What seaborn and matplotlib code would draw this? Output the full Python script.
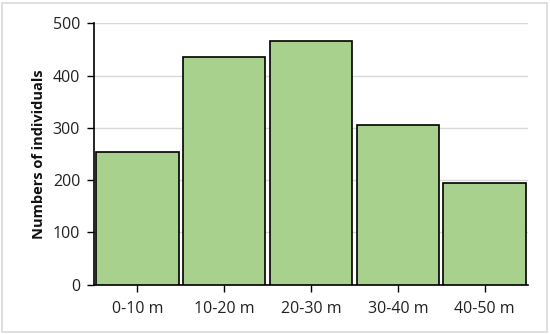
import matplotlib
matplotlib.use("Agg")
import matplotlib.pyplot as plt
import pandas as pd
import seaborn as sns
from matplotlib.patches import Rectangle

# Values
classes = ["0-10 m", "10-20 m", "20-30 m", "30-40 m", "40-50 m"]
counts = [253, 436, 466, 306, 195]
y_ticks = [0, 100, 200, 300, 400, 500]

BAR_COLOR = "#A9D18E"
GRID_COLOR = "#D9D9D9"


def main() -> None:
  sns.set_theme(style="white")
  plt.rcParams["font.family"] = ["Open Sans", "DejaVu Sans"]

  df = pd.DataFrame({"class": classes, "count": counts})

  fig = plt.figure(figsize=(5.5, 3.34), dpi=100)
  ax = fig.add_axes([0.171, 0.148, 0.789, 0.782])

  sns.barplot(
    data=df, x="class", y="count", color=BAR_COLOR, saturation=1,
    width=0.95, edgecolor="black", linewidth=1.2, ax=ax, zorder=3,
  )

  ax.set_xlim(-0.5, len(classes) - 0.5)
  ax.set_ylim(0, 500)
  ax.set_yticks(y_ticks)
  ax.yaxis.grid(True, color=GRID_COLOR, linewidth=1, zorder=0)
  ax.set_axisbelow(True)

  for side in ["top", "right"]:
    ax.spines[side].set_visible(False)
  for side in ["left", "bottom"]:
    ax.spines[side].set_color("black")
    ax.spines[side].set_linewidth(1.2)

  ax.tick_params(axis="both", which="major", length=5, width=1, color="black",
                 direction="out", labelsize=11.5, labelcolor="#222222")
  ax.tick_params(axis="y", pad=5)
  ax.tick_params(axis="x", pad=7)
  ax.xaxis.set_ticks_position("bottom")
  ax.yaxis.set_ticks_position("left")

  ax.set_xlabel("")
  ax.set_ylabel("Numbers of individuals", fontsize=10.5, fontweight="bold",
                color="#111111", labelpad=5)

  # light outer frame around the whole figure
  fig.patches.append(Rectangle((0.004, 0.006), 0.99, 0.985, transform=fig.transFigure,
                               fill=False, edgecolor=GRID_COLOR, linewidth=1.2))

  fig.savefig("out.png", dpi=100)
  plt.close(fig)


if __name__ == "__main__":
  main()
